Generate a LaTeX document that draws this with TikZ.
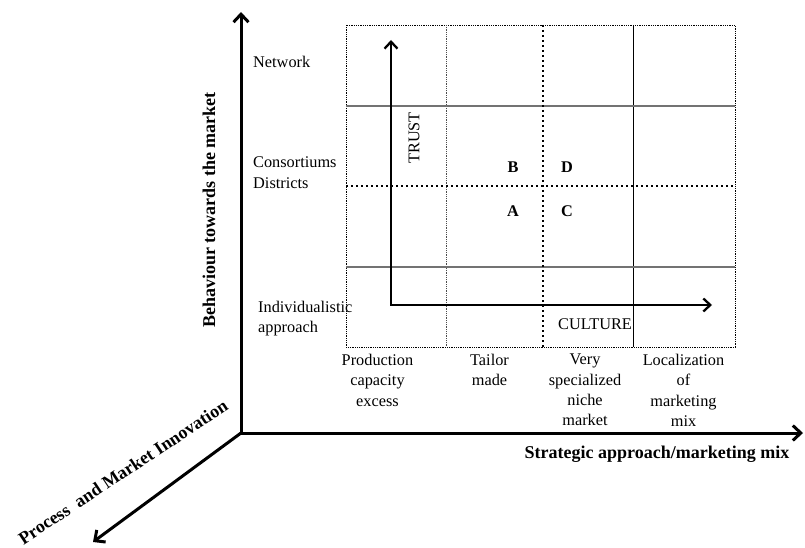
\documentclass[tikz,border=0pt]{standalone}
\usepackage{fontspec}
\setmainfont{Liberation Serif}
\usetikzlibrary{arrows.meta}
\begin{document}
\begin{tikzpicture}[x=1pt,y=-1pt,
  lbl/.style={inner sep=0pt,font=\fontsize{16.3}{20.3}\selectfont},
  letter/.style={inner sep=0pt,font=\fontsize{16.3}{20.3}\selectfont\bfseries},
  axlbl/.style={inner sep=0pt,font=\fontsize{18}{22}\selectfont\bfseries},
  axis/.style={line width=3pt,-{Straight Barb[length=8pt,width=15pt,line width=3pt]}},
  inner/.style={line width=2.3pt,{Straight Barb[length=7pt,width=13pt,line width=2.3pt]}-{Straight Barb[length=7pt,width=13pt,line width=2.3pt]}},
  thindot/.style={line width=0.9pt,dash pattern=on 0.9pt off 0.9pt},
  thickdot/.style={line width=2.4pt,dash pattern=on 2.4pt off 2.6pt},
  gridsolid/.style={line width=1.3pt,black!55}
]
\useasboundingbox (0,0) rectangle (805,548);

% main axes
\coordinate (O) at (241,433);
\coordinate (Ytip) at (241,12);
\coordinate (Xtip) at (803,433);
\coordinate (Ztip) at (93,542);
\draw[axis] (O) -- (Ytip);
\draw[axis] (O) -- (Xtip);
\draw[axis] (O) -- (Ztip);

% grid
\draw[thindot] (346,25) rectangle (735,347);
\draw[thindot,black!70] (446,25) -- (446,347);
\draw[line width=1pt] (633,25) -- (633,347);
\draw[gridsolid] (346,106) -- (735,106);
\draw[gridsolid] (346,267) -- (735,267);
\draw[thickdot] (543,25) -- (543,347);
\draw[thickdot] (346,186) -- (735,186);

% inner axes
\coordinate (Ttip) at (391,40);
\coordinate (Corner) at (391,305);
\coordinate (Ctip) at (712,305);
\draw[inner] (Ttip) -- (Corner) -- (Ctip);
\node[lbl,rotate=90] (trust) at (414,138) {TRUST};
\node[lbl] (culture) at (595,324) {CULTURE};

% quadrant letters
\node[letter] (B) at (513,167) {B};
\node[letter] (D) at (567,167) {D};
\node[letter] (A) at (513,211) {A};
\node[letter] (C) at (567,211) {C};

% left labels
\node[lbl,anchor=north west] (network) at (253,56) {Network};
\node[lbl,anchor=north west,align=left] (consort) at (253,157) {Consortiums\\Districts};
\node[lbl,anchor=north west,align=left] (indiv) at (258,301) {Individualistic\\approach};

% bottom labels
\node[lbl,anchor=north,align=center] (prod) at (377.5,354) {Production\\capacity\\excess};
\node[lbl,anchor=north,align=center] (tailor) at (489.5,354) {Tailor\\made};
\node[lbl,anchor=north,align=center] (very) at (585,354) {Very\\specialized\\niche\\market};
\node[lbl,anchor=north,align=center] (local) at (683.5,354) {Localization\\of\\marketing\\mix};

% axis labels
\node[axlbl,rotate=90] (beh) at (209,210) {Behaviour towards the market};
\node[axlbl] (strat) at (657,454) {Strategic approach/marketing mix};
\node[axlbl,rotate=33.5] (proc) at (123,472) {Process\ \ and Market Innovation};
\end{tikzpicture}
\end{document}
